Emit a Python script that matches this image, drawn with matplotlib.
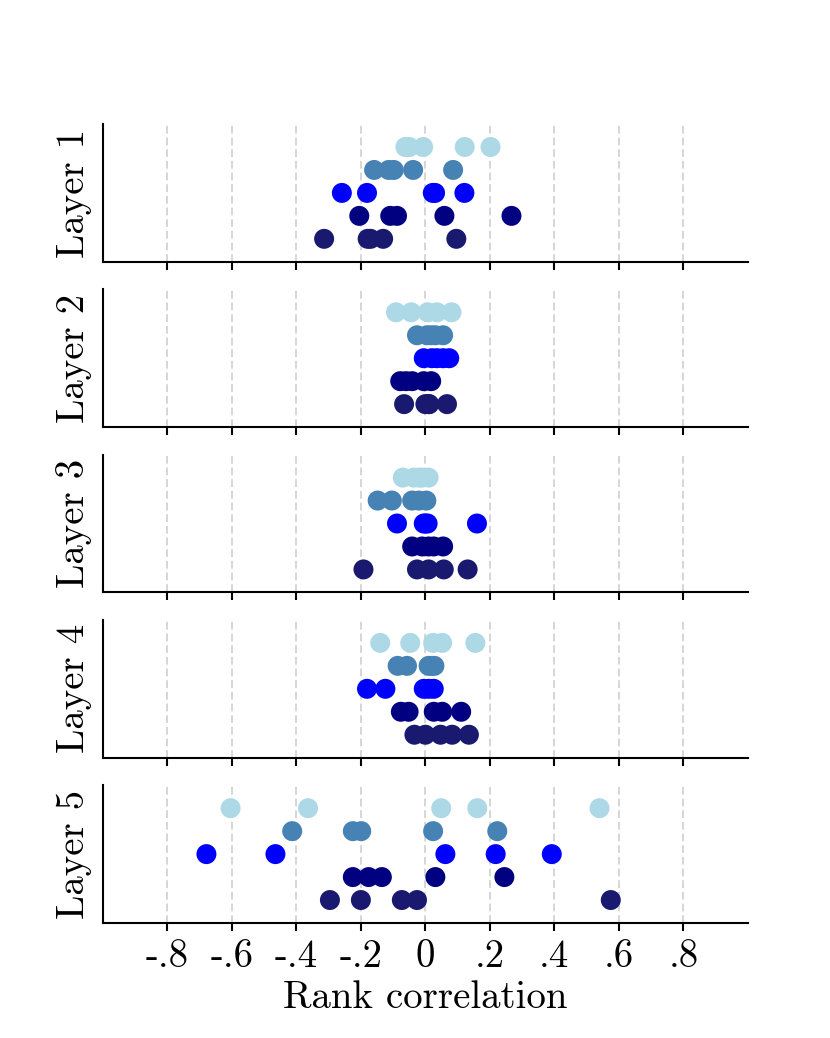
import matplotlib
matplotlib.use("Agg")
import matplotlib.pyplot as plt

plt.rcParams['font.family'] = 'serif'
plt.rcParams['font.serif'] = ['cmr10', 'DejaVu Serif']
plt.rcParams['mathtext.fontset'] = 'cm'
plt.rcParams['axes.unicode_minus'] = False
plt.rcParams['axes.formatter.use_mathtext'] = True

layer_names = ["Layer 1", "Layer 2", "Layer 3", "Layer 4", "Layer 5"]
row_colors = ["lightblue", "steelblue", "blue", "navy", "midnightblue"]  # top row to bottom row
tick_values = [-0.8, -0.6, -0.4, -0.2, 0.0, 0.2, 0.4, 0.6, 0.8]
tick_labels = ["-.8", "-.6", "-.4", "-.2", "0", ".2", ".4", ".6", ".8"]
xlabel = "Rank correlation"

# each layer: rows listed top (lightblue) to bottom (midnightblue)
layer1 = [
    [-0.062, -0.050, -0.007, 0.122, 0.202],
    [-0.159, -0.114, -0.098, -0.038, 0.086],
    [-0.259, -0.181, 0.023, 0.030, 0.121],
    [-0.205, -0.109, -0.088, 0.059, 0.267],
    [-0.314, -0.179, -0.170, -0.131, 0.096],
]
layer2 = [
    [-0.091, -0.044, 0.007, 0.036, 0.081],
    [-0.026, 0.005, 0.018, 0.031, 0.055],
    [-0.005, 0.020, 0.036, 0.055, 0.074],
    [-0.078, -0.060, -0.041, -0.005, 0.018],
    [-0.066, 0.000, 0.010, 0.012, 0.067],
]
layer3 = [
    [-0.070, -0.036, -0.020, -0.010, 0.010],
    [-0.148, -0.104, -0.041, -0.020, 0.003],
    [-0.088, -0.005, 0.000, 0.007, 0.160],
    [-0.041, -0.010, 0.010, 0.026, 0.055],
    [-0.192, -0.026, 0.010, 0.057, 0.131],
]
layer4 = [
    [-0.140, -0.047, 0.024, 0.052, 0.155],
    [-0.086, -0.057, 0.010, 0.020, 0.028],
    [-0.181, -0.124, -0.005, 0.010, 0.026],
    [-0.076, -0.052, 0.026, 0.052, 0.111],
    [-0.034, 0.000, 0.047, 0.083, 0.135],
]
layer5 = [
    [-0.604, -0.364, 0.049, 0.161, 0.540],
    [-0.413, -0.225, -0.199, 0.024, 0.223],
    [-0.679, -0.465, 0.062, 0.218, 0.392],
    [-0.225, -0.176, -0.135, 0.031, 0.245],
    [-0.296, -0.200, -0.073, -0.026, 0.575],
]
layers = [layer1, layer2, layer3, layer4, layer5]

fig, axes = plt.subplots(5, 1, figsize=(8.3, 10.38), dpi=100, sharex=True)
fig.subplots_adjust(left=0.124, right=0.901, top=0.8805, bottom=0.1108, hspace=0.2)

for ax, name, data in zip(axes, layer_names, layers):
    n = len(data)
    for i, (vals, col) in enumerate(zip(data, row_colors)):
        y = n - 1 - i
        ax.scatter(vals, [y] * len(vals), s=207, color=col, edgecolors='none', zorder=3)
    ax.set_xlim(-1, 1)
    ax.set_ylim(-1, n)
    ax.set_yticks([])
    ax.set_xticks(tick_values)
    ax.grid(axis='x', color='#d6d6d6', linestyle='--', linewidth=1.4, dashes=(4, 2))
    ax.set_axisbelow(True)
    for sp in ['top', 'right']:
        ax.spines[sp].set_visible(False)
    for sp in ['left', 'bottom']:
        ax.spines[sp].set_linewidth(1.5)
    ax.tick_params(axis='x', length=5.5, width=1.5, labelsize=28, direction='out', pad=6)
    ax.set_ylabel(name, fontsize=28, labelpad=8)

axes[-1].set_xticklabels(tick_labels)
axes[-1].set_xlabel(xlabel, fontsize=28)

fig.savefig("out.png", dpi=100)
